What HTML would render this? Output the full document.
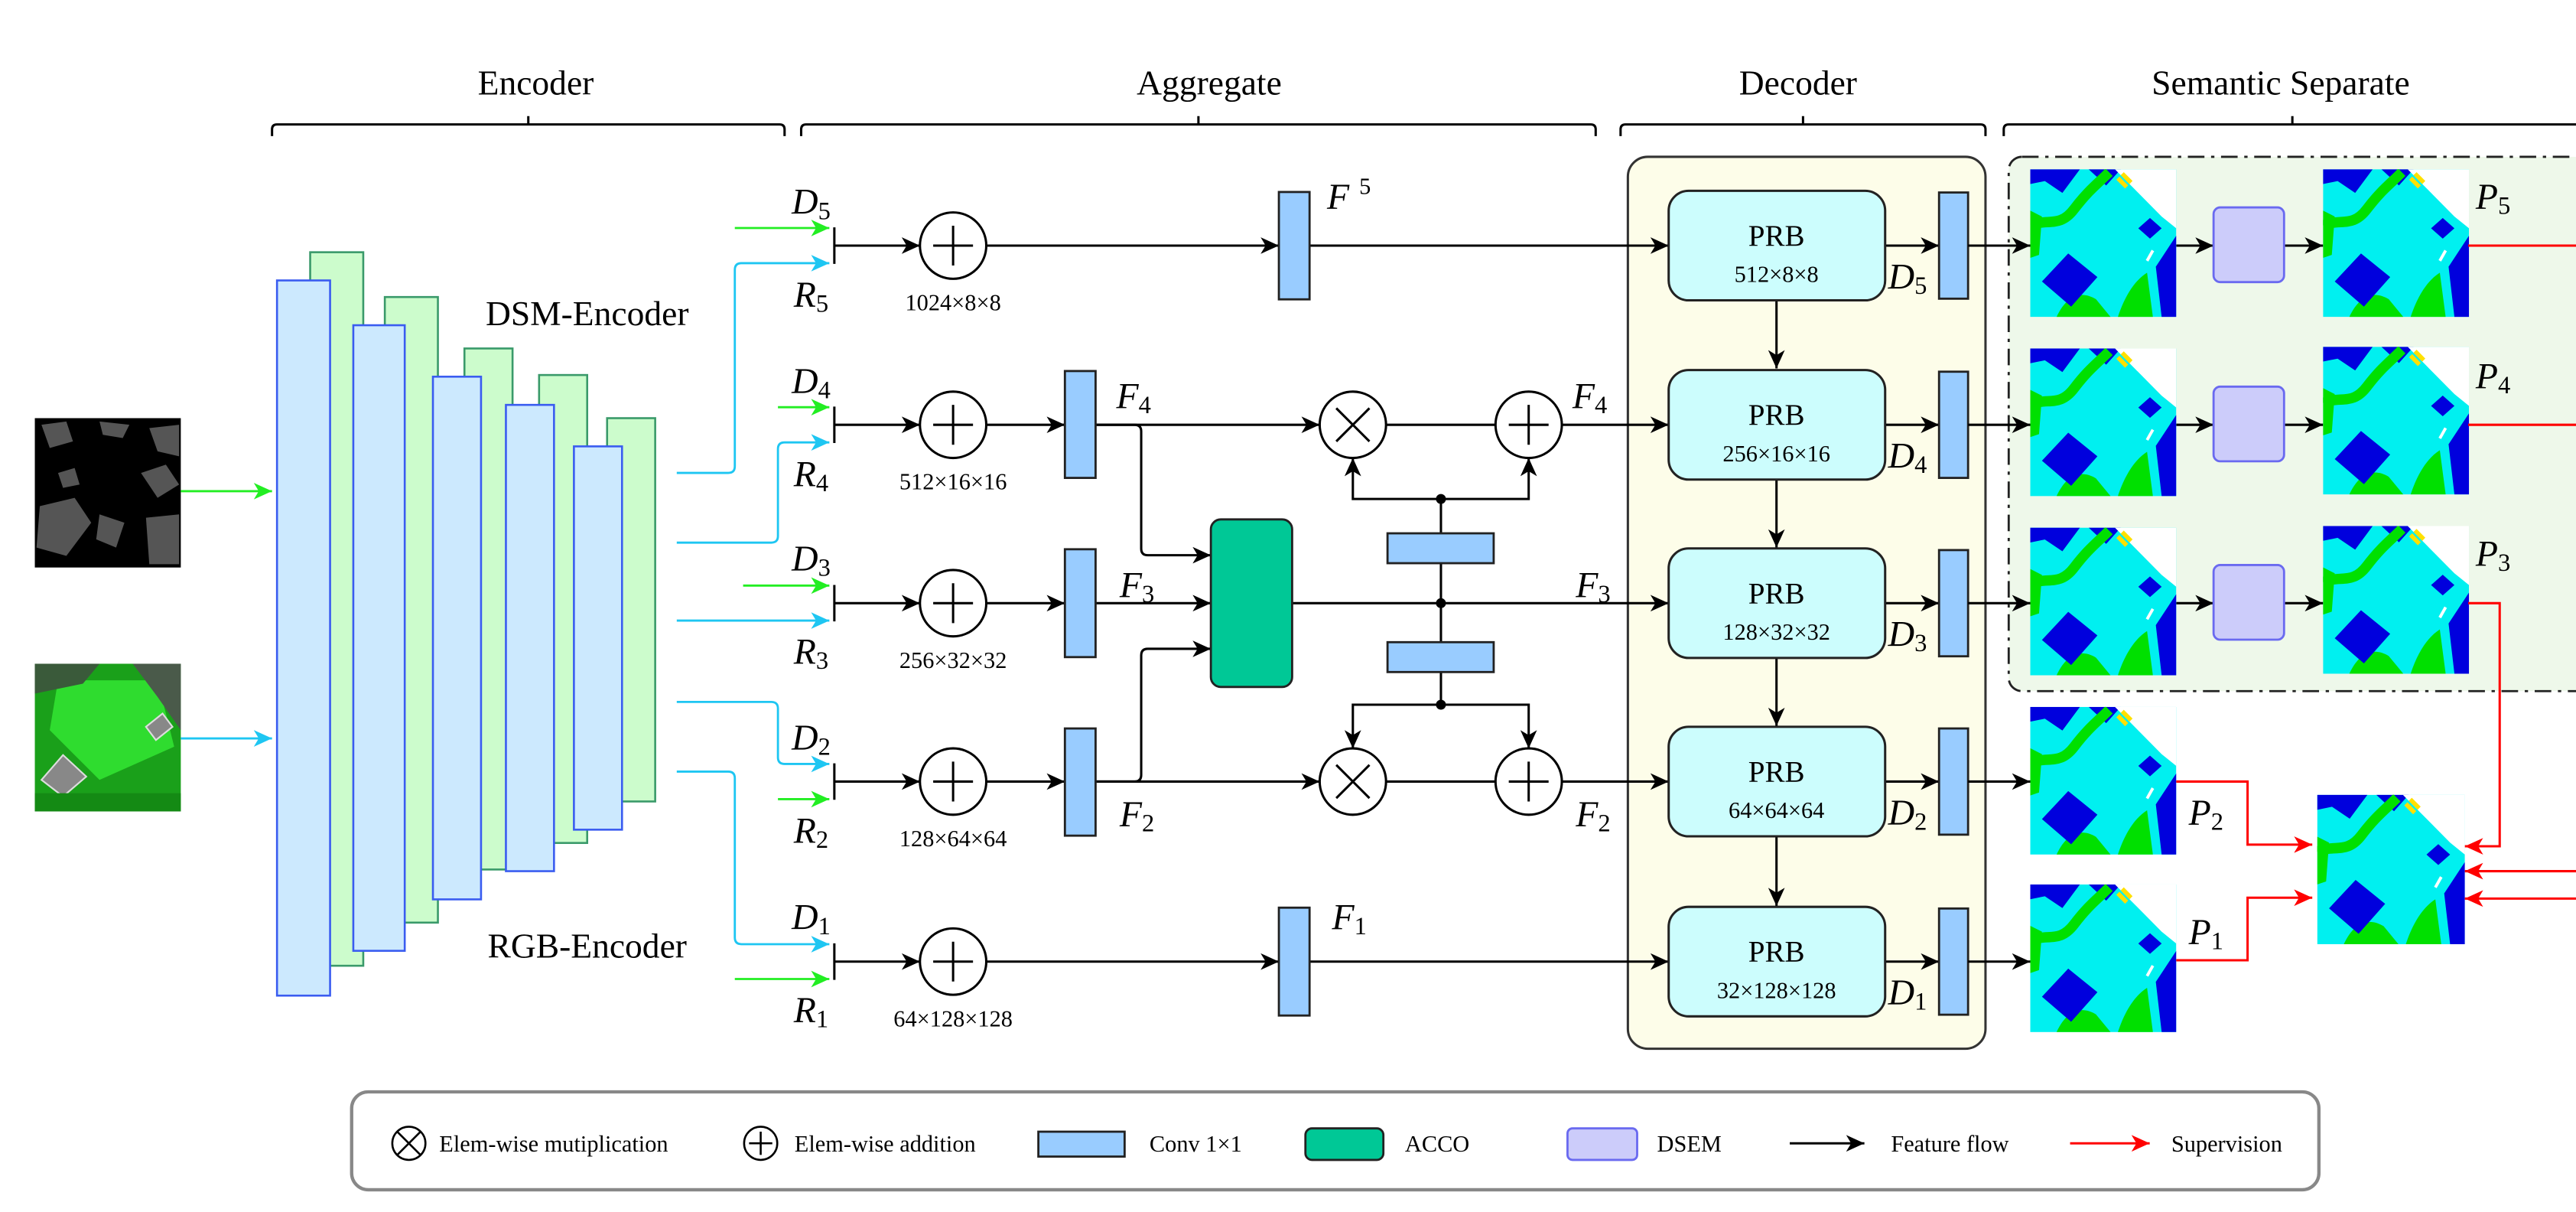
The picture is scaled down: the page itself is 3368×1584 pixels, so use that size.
<!DOCTYPE html>
<html><head><meta charset="utf-8"><style>
html,body{margin:0;padding:0;background:#fff;}
svg{display:block;font-family:"Liberation Serif",serif;}
text{font-family:"Liberation Serif",serif;fill:#000;}
.it{font-style:italic;}
</style></head><body>
<svg width="3368" height="1584" viewBox="0 0 1553 730.4" preserveAspectRatio="none" xmlns="http://www.w3.org/2000/svg" font-family="Liberation Serif, serif">
<defs>
<marker id="ab" markerUnits="userSpaceOnUse" markerWidth="12" markerHeight="10" refX="11" refY="5" orient="auto"><path d="M0,0 L11,5 L0,10 L3,5 Z" fill="#000"/></marker>
<marker id="ag" markerUnits="userSpaceOnUse" markerWidth="12" markerHeight="10" refX="11" refY="5" orient="auto"><path d="M0,0 L11,5 L0,10 L3,5 Z" fill="#22ee22"/></marker>
<marker id="ac" markerUnits="userSpaceOnUse" markerWidth="12" markerHeight="10" refX="11" refY="5" orient="auto"><path d="M0,0 L11,5 L0,10 L3,5 Z" fill="#1ec6f2"/></marker>
<marker id="ar" markerUnits="userSpaceOnUse" markerWidth="12" markerHeight="10" refX="11" refY="5" orient="auto"><path d="M0,0 L11,5 L0,10 L3,5 Z" fill="#f00"/></marker>
<symbol id="seg" viewBox="0 0 100 100" preserveAspectRatio="none">
<rect width="100" height="100" fill="#00f0f0"/>
<polygon points="0,0 34,0 22,16 10,8 0,10" fill="#0000dd"/>
<polygon points="40,0 62,0 52,11" fill="#0000dd"/>
<path d="M0,38 C12,33 20,40 30,27 C40,14 46,10 54,2" stroke="#00e000" stroke-width="7" fill="none"/>
<path d="M0,28 L8,32 L6,58 L0,60 Z" fill="#00e000"/>
<path d="M18,100 C25,85 35,82 45,88 L55,100 Z" fill="#00e000"/>
<path d="M60,100 C65,85 72,75 80,70 L84,100 Z" fill="#00e000"/>
<polygon points="8,76 26,57 46,73 28,93" fill="#0000dd"/>
<polygon points="58,0 100,0 100,40 90,32 70,12" fill="#fff"/>
<path d="M60,6 L66,12 M63,3 L69,9" stroke="#ffe000" stroke-width="3"/>
<polygon points="74,40 82,33 90,40 82,47" fill="#0000dd"/>
<polygon points="100,45 86,66 90,100 100,100" fill="#0000dd"/>
<path d="M84,55 L80,62" stroke="#fff" stroke-width="2"/>
</symbol>
</defs>

<!-- headers -->
<g font-size="21" text-anchor="middle">
<text x="323" y="57">Encoder</text>
<text x="729" y="57">Aggregate</text>
<text x="1084" y="57">Decoder</text>
<text x="1375" y="57">Semantic Separate</text>
</g>
<g fill="none" stroke="#000" stroke-width="1.4">
<path d="M164,82 V78 Q164,75 167,75 H470 Q473,75 473,78 V82 M318.5,75 V70"/>
<path d="M483,82 V78 Q483,75 486,75 H959 Q962,75 962,78 V82 M722.5,75 V70"/>
<path d="M977,82 V78 Q977,75 980,75 H1194 Q1197,75 1197,78 V82 M1087,75 V70"/>
<path d="M1208,82 V78 Q1208,75 1211,75 H1560 M1382,75 V70"/>
</g>

<!-- decoder & semantic backgrounds (drawn first) -->
<rect x="981.4" y="94.5" width="215.6" height="537.5" rx="12" fill="#fdfde9" stroke="#333" stroke-width="1.4"/>
<rect x="1211" y="94.5" width="400" height="322" rx="8" fill="#eef8ea" stroke="#222" stroke-width="1.3" stroke-dasharray="10,4,2,4"/>

<!-- input images -->
<rect x="21" y="252" width="88" height="90" fill="#000"/>
<g fill="#555">
<polygon points="25,256 40,254 44,266 30,270"/>
<polygon points="60,254 78,256 74,264 62,262"/>
<polygon points="90,258 108,256 108,275 95,272"/>
<polygon points="85,285 100,280 108,292 95,300"/>
<polygon points="24,305 45,300 55,315 40,335 22,330"/>
<polygon points="60,310 75,315 70,330 58,325"/>
<polygon points="88,312 108,310 108,340 90,340"/>
<polygon points="35,285 45,282 48,292 38,294"/>
</g>
<rect x="21" y="400" width="88" height="89" fill="#1aa01a"/>
<polygon points="35,410 95,410 105,450 60,470 30,440" fill="#2fdc2f"/>
<polygon points="21,400 60,400 50,412 21,418" fill="#3a5a3a"/>
<polygon points="80,400 109,400 109,440 95,420" fill="#4a5a4a"/>
<polygon points="25,470 38,455 52,468 38,480" fill="#888" stroke="#ddd" stroke-width="1"/>
<polygon points="88,438 98,430 104,438 94,446" fill="#888" stroke="#ddd" stroke-width="1"/>
<rect x="21" y="478" width="88" height="11" fill="#148a14"/>

<line x1="109" y1="296" x2="164" y2="296" stroke="#22ee22" stroke-width="1.3" marker-end="url(#ag)"/>
<line x1="109" y1="445" x2="164" y2="445" stroke="#1ec6f2" stroke-width="1.3" marker-end="url(#ac)"/>

<!-- encoder blocks -->
<g stroke-width="1.2">
<rect x="187" y="152" width="32" height="430" fill="#ccfccc" stroke="#3a9a6a"/>
<rect x="167" y="169" width="32" height="431" fill="#cce9fe" stroke="#3a5cf0"/>
<rect x="232" y="179" width="32" height="377" fill="#ccfccc" stroke="#3a9a6a"/>
<rect x="213" y="196" width="31" height="377" fill="#cce9fe" stroke="#3a5cf0"/>
<rect x="280" y="210" width="29" height="314" fill="#ccfccc" stroke="#3a9a6a"/>
<rect x="261" y="227" width="29" height="315" fill="#cce9fe" stroke="#3a5cf0"/>
<rect x="325" y="226" width="29" height="282" fill="#ccfccc" stroke="#3a9a6a"/>
<rect x="305" y="244" width="29" height="281" fill="#cce9fe" stroke="#3a5cf0"/>
<rect x="366" y="252" width="29" height="231" fill="#ccfccc" stroke="#3a9a6a"/>
<rect x="346" y="269" width="29" height="231" fill="#cce9fe" stroke="#3a5cf0"/>
</g>
<text x="354" y="196" font-size="21" text-anchor="middle">DSM-Encoder</text>
<text x="354" y="577" font-size="21" text-anchor="middle">RGB-Encoder</text>

<!-- cyan & green inputs -->
<g fill="none" stroke-width="1.3">
<path d="M408,285 H439 Q443,285 443,281 V162.6 Q443,158.6 447,158.6 H500" stroke="#1ec6f2" marker-end="url(#ac)"/>
<path d="M408,327 H465 Q469,327 469,323 V270.6 Q469,266.6 473,266.6 H500" stroke="#1ec6f2" marker-end="url(#ac)"/>
<path d="M408,374 H500" stroke="#1ec6f2" marker-end="url(#ac)"/>
<path d="M408,423 H465 Q469,423 469,427 V456.4 Q469,460.4 473,460.4 H500" stroke="#1ec6f2" marker-end="url(#ac)"/>
<path d="M408,465 H439 Q443,465 443,469 V565 Q443,569 447,569 H500" stroke="#1ec6f2" marker-end="url(#ac)"/>
<path d="M443,137.4 H500" stroke="#22ee22" marker-end="url(#ag)"/>
<path d="M469,245.4 H500" stroke="#22ee22" marker-end="url(#ag)"/>
<path d="M448,352.9 H500" stroke="#22ee22" marker-end="url(#ag)"/>
<path d="M469,481.6 H500" stroke="#22ee22" marker-end="url(#ag)"/>
<path d="M443,590 H500" stroke="#22ee22" marker-end="url(#ag)"/>
</g>

<!-- rows: ticks, labels, add circles -->
<g stroke="#000" stroke-width="1.4" fill="none">
<path d="M503,137 V159 M503,245 V267 M503,352.5 V374.5 M503,460 V482 M503,568.5 V590.5"/>
<path d="M503,148 H554.6" marker-end="url(#ab)"/>
<path d="M503,256 H554.6" marker-end="url(#ab)"/>
<path d="M503,363.5 H554.6" marker-end="url(#ab)"/>
<path d="M503,471 H554.6" marker-end="url(#ab)"/>
<path d="M503,579.5 H554.6" marker-end="url(#ab)"/>
</g>
<g stroke="#000" stroke-width="1.4" fill="#fff">
<circle cx="574.6" cy="148" r="20"/><circle cx="574.6" cy="256" r="20"/><circle cx="574.6" cy="363.5" r="20"/><circle cx="574.6" cy="471" r="20"/><circle cx="574.6" cy="579.5" r="20"/>
</g>
<g stroke="#000" stroke-width="1.4">
<path d="M562.6,148 H586.6 M574.6,136 V160 M562.6,256 H586.6 M574.6,244 V268 M562.6,363.5 H586.6 M574.6,351.5 V375.5 M562.6,471 H586.6 M574.6,459 V483 M562.6,579.5 H586.6 M574.6,567.5 V591.5"/>
</g>
<g font-size="22" class="it" text-anchor="middle">
<text x="489" y="129" class="it">D<tspan font-size="15" font-style="normal" dy="3">5</tspan></text>
<text x="489" y="185" class="it">R<tspan font-size="15" font-style="normal" dy="3">5</tspan></text>
<text x="489" y="237" class="it">D<tspan font-size="15" font-style="normal" dy="3">4</tspan></text>
<text x="489" y="293" class="it">R<tspan font-size="15" font-style="normal" dy="3">4</tspan></text>
<text x="489" y="344" class="it">D<tspan font-size="15" font-style="normal" dy="3">3</tspan></text>
<text x="489" y="400" class="it">R<tspan font-size="15" font-style="normal" dy="3">3</tspan></text>
<text x="489" y="452" class="it">D<tspan font-size="15" font-style="normal" dy="3">2</tspan></text>
<text x="489" y="508" class="it">R<tspan font-size="15" font-style="normal" dy="3">2</tspan></text>
<text x="489" y="560" class="it">D<tspan font-size="15" font-style="normal" dy="3">1</tspan></text>
<text x="489" y="616" class="it">R<tspan font-size="15" font-style="normal" dy="3">1</tspan></text>
</g>
<g font-size="14" text-anchor="middle">
<text x="574.6" y="187">1024×8×8</text>
<text x="574.6" y="295">512×16×16</text>
<text x="574.6" y="402.5">256×32×32</text>
<text x="574.6" y="510">128×64×64</text>
<text x="574.6" y="618.5">64×128×128</text>
</g>

<!-- aggregate connections -->
<g stroke="#000" stroke-width="1.4" fill="none">
<path d="M594.6,148 H771" marker-end="url(#ab)"/>
<path d="M789.5,148 H1006" marker-end="url(#ab)"/>
<path d="M594.6,579.5 H771" marker-end="url(#ab)"/>
<path d="M789.5,579.5 H1006" marker-end="url(#ab)"/>
<path d="M594.6,256 H642" marker-end="url(#ab)"/>
<path d="M594.6,363.5 H642" marker-end="url(#ab)"/>
<path d="M594.6,471 H642" marker-end="url(#ab)"/>
<path d="M660.5,256 H795.6" marker-end="url(#ab)"/>
<path d="M660.5,471 H795.6" marker-end="url(#ab)"/>
<path d="M835.6,256 H901.6 M835.6,471 H901.6"/>
<path d="M941.6,256 H1006" marker-end="url(#ab)"/>
<path d="M941.6,471 H1006" marker-end="url(#ab)"/>
<path d="M660.5,363.5 H730" marker-end="url(#ab)"/>
<path d="M779,363.5 H1006" marker-end="url(#ab)"/>
<path d="M660.5,256 H684 Q688,256 688,260 V330.6 Q688,334.6 692,334.6 H730" marker-end="url(#ab)"/>
<path d="M660.5,471 H684 Q688,471 688,467 V395 Q688,391 692,391 H730" marker-end="url(#ab)"/>
<path d="M868.7,300.7 V424.7"/>
<path d="M868.7,300.7 H815.6 V276" marker-end="url(#ab)"/>
<path d="M868.7,300.7 H921.6 V276" marker-end="url(#ab)"/>
<path d="M868.7,424.7 H815.6 V451" marker-end="url(#ab)"/>
<path d="M868.7,424.7 H921.6 V451" marker-end="url(#ab)"/>
</g>
<g fill="#99ccff" stroke="#222" stroke-width="1.3">
<rect x="771" y="115.7" width="18.5" height="64.7"/>
<rect x="771" y="547" width="18.5" height="65"/>
<rect x="642" y="223.6" width="18.5" height="64.4"/>
<rect x="642" y="331" width="18.5" height="65"/>
<rect x="642" y="439" width="18.5" height="64.6"/>
<rect x="836.5" y="321.4" width="64" height="18"/>
<rect x="836.5" y="387" width="64" height="18"/>
</g>
<rect x="730" y="313" width="49" height="101" rx="6" fill="#00c896" stroke="#222" stroke-width="1.3"/>
<g fill="#000"><circle cx="868.7" cy="300.7" r="3"/><circle cx="868.7" cy="363.5" r="3"/><circle cx="868.7" cy="424.7" r="3"/></g>
<g stroke="#000" stroke-width="1.4" fill="#fff">
<circle cx="815.6" cy="256" r="20"/><circle cx="921.6" cy="256" r="20"/>
<circle cx="815.6" cy="471" r="20"/><circle cx="921.6" cy="471" r="20"/>
</g>
<g stroke="#000" stroke-width="1.4">
<path d="M805.6,246 L825.6,266 M825.6,246 L805.6,266 M805.6,461 L825.6,481 M825.6,461 L805.6,481"/>
<path d="M909.6,256 H933.6 M921.6,244 V268 M909.6,471 H933.6 M921.6,459 V483"/>
</g>
<g font-size="22" class="it">
<text x="800" y="126" class="it">F<tspan font-size="14" font-style="normal" dx="6" dy="-9">5</tspan></text>
<text x="673" y="246" class="it">F<tspan font-size="15" font-style="normal" dy="3">4</tspan></text>
<text x="675" y="360" class="it">F<tspan font-size="15" font-style="normal" dy="3">3</tspan></text>
<text x="675" y="498" class="it">F<tspan font-size="15" font-style="normal" dy="3">2</tspan></text>
<text x="803" y="560" class="it">F<tspan font-size="15" font-style="normal" dy="3">1</tspan></text>
<text x="948" y="246" class="it">F<tspan font-size="15" font-style="normal" dy="3">4</tspan></text>
<text x="950" y="360" class="it">F<tspan font-size="15" font-style="normal" dy="3">3</tspan></text>
<text x="950" y="498" class="it">F<tspan font-size="15" font-style="normal" dy="3">2</tspan></text>
</g>

<!-- decoder -->
<g stroke="#000" stroke-width="1.4" fill="none">
<path d="M1071,181 V222" marker-end="url(#ab)"/>
<path d="M1071,289 V330" marker-end="url(#ab)"/>
<path d="M1071,396.5 V437.5" marker-end="url(#ab)"/>
<path d="M1071,504 V546" marker-end="url(#ab)"/>
<path d="M1136.5,148 H1169" marker-end="url(#ab)"/>
<path d="M1136.5,256 H1169" marker-end="url(#ab)"/>
<path d="M1136.5,363.5 H1169" marker-end="url(#ab)"/>
<path d="M1136.5,471 H1169" marker-end="url(#ab)"/>
<path d="M1136.5,579.5 H1169" marker-end="url(#ab)"/>
</g>
<g fill="#ccfdfd" stroke="#222" stroke-width="1.4">
<rect x="1006" y="115" width="130.5" height="66" rx="12"/>
<rect x="1006" y="223" width="130.5" height="66" rx="12"/>
<rect x="1006" y="330.5" width="130.5" height="66" rx="12"/>
<rect x="1006" y="438" width="130.5" height="66" rx="12"/>
<rect x="1006" y="546.5" width="130.5" height="66" rx="12"/>
</g>
<g text-anchor="middle">
<text x="1071" y="148" font-size="18">PRB</text><text x="1071" y="170" font-size="14">512×8×8</text>
<text x="1071" y="256" font-size="18">PRB</text><text x="1071" y="278" font-size="14">256×16×16</text>
<text x="1071" y="363.5" font-size="18">PRB</text><text x="1071" y="385.5" font-size="14">128×32×32</text>
<text x="1071" y="471" font-size="18">PRB</text><text x="1071" y="493" font-size="14">64×64×64</text>
<text x="1071" y="579.5" font-size="18">PRB</text><text x="1071" y="601.5" font-size="14">32×128×128</text>
</g>
<g font-size="22" class="it" text-anchor="middle">
<text x="1150" y="174" class="it">D<tspan font-size="15" font-style="normal" dy="3">5</tspan></text>
<text x="1150" y="282" class="it">D<tspan font-size="15" font-style="normal" dy="3">4</tspan></text>
<text x="1150" y="389.5" class="it">D<tspan font-size="15" font-style="normal" dy="3">3</tspan></text>
<text x="1150" y="497" class="it">D<tspan font-size="15" font-style="normal" dy="3">2</tspan></text>
<text x="1150" y="605.5" class="it">D<tspan font-size="15" font-style="normal" dy="3">1</tspan></text>
</g>

<!-- semantic separate -->
<g fill="#99ccff" stroke="#222" stroke-width="1.3">
<rect x="1169" y="116" width="17.5" height="64"/>
<rect x="1169" y="224" width="17.5" height="64"/>
<rect x="1169" y="331.5" width="17.5" height="64"/>
<rect x="1169" y="439" width="17.5" height="64"/>
<rect x="1169" y="547.5" width="17.5" height="64"/>
</g>
<g stroke="#000" stroke-width="1.4" fill="none">
<path d="M1186.5,148 H1224" marker-end="url(#ab)"/>
<path d="M1186.5,256 H1224" marker-end="url(#ab)"/>
<path d="M1186.5,363.5 H1224" marker-end="url(#ab)"/>
<path d="M1186.5,471 H1224" marker-end="url(#ab)"/>
<path d="M1186.5,579.5 H1224" marker-end="url(#ab)"/>
<path d="M1312,148 H1334.5" marker-end="url(#ab)"/>
<path d="M1312,256 H1334.5" marker-end="url(#ab)"/>
<path d="M1312,363.5 H1334.5" marker-end="url(#ab)"/>
<path d="M1377,148 H1400.5" marker-end="url(#ab)"/>
<path d="M1377,256 H1400.5" marker-end="url(#ab)"/>
<path d="M1377,363.5 H1400.5" marker-end="url(#ab)"/>
</g>
<use href="#seg" x="1224" y="102" width="88" height="89"/>
<use href="#seg" x="1224" y="210" width="88" height="89"/>
<use href="#seg" x="1224" y="318" width="88" height="89"/>
<use href="#seg" x="1224" y="426" width="88" height="89"/>
<use href="#seg" x="1224" y="533" width="88" height="89"/>
<use href="#seg" x="1400.5" y="102" width="88" height="89"/>
<use href="#seg" x="1400.5" y="209" width="88" height="89"/>
<use href="#seg" x="1400.5" y="317" width="88" height="89"/>
<use href="#seg" x="1397" y="479" width="89" height="90"/>
<g fill="#ccccfa" stroke="#6a6af0" stroke-width="1.3">
<rect x="1334.5" y="125" width="42.5" height="45" rx="4"/>
<rect x="1334.5" y="233" width="42.5" height="45" rx="4"/>
<rect x="1334.5" y="340.5" width="42.5" height="45" rx="4"/>
</g>
<g font-size="22" class="it" text-anchor="middle">
<text x="1503" y="126" class="it">P<tspan font-size="15" font-style="normal" dy="3">5</tspan></text>
<text x="1503" y="234" class="it">P<tspan font-size="15" font-style="normal" dy="3">4</tspan></text>
<text x="1503" y="341" class="it">P<tspan font-size="15" font-style="normal" dy="3">3</tspan></text>
<text x="1330" y="497" class="it">P<tspan font-size="15" font-style="normal" dy="3">2</tspan></text>
<text x="1330" y="569" class="it">P<tspan font-size="15" font-style="normal" dy="3">1</tspan></text>
</g>
<g stroke="#f00" stroke-width="1.4" fill="none">
<path d="M1488,148 H1560 M1488,256 H1560"/>
<path d="M1488,363.5 H1507 V510 H1486" marker-end="url(#ar)"/>
<path d="M1560,525 H1486" marker-end="url(#ar)"/>
<path d="M1560,541.5 H1486" marker-end="url(#ar)"/>
<path d="M1312,471 H1355 V509 H1394" marker-end="url(#ar)"/>
<path d="M1312,578.7 H1355 V541 H1394" marker-end="url(#ar)"/>
</g>

<!-- legend -->
<rect x="212" y="658" width="1186" height="59" rx="10" fill="#fff" stroke="#888" stroke-width="2"/>
<g stroke="#000" stroke-width="1.2" fill="#fff">
<circle cx="246.5" cy="689" r="10"/><circle cx="458.6" cy="689" r="10"/>
</g>
<g stroke="#000" stroke-width="1.2">
<path d="M239.5,682 L253.5,696 M253.5,682 L239.5,696 M451.6,689 H465.6 M458.6,682 V696"/>
</g>
<rect x="626" y="682" width="52" height="15" fill="#99ccff" stroke="#222" stroke-width="1.3"/>
<rect x="787" y="680" width="47" height="19" rx="4" fill="#00c896" stroke="#222" stroke-width="1.3"/>
<rect x="945" y="680" width="42" height="19" rx="3" fill="#ccccfa" stroke="#6a6af0" stroke-width="1.3"/>
<path d="M1079,689 H1124" stroke="#000" stroke-width="1.4" marker-end="url(#ab)"/>
<path d="M1248,689 H1296" stroke="#f00" stroke-width="1.4" marker-end="url(#ar)"/>
<g font-size="14">
<text x="264.8" y="694">Elem-wise mutiplication</text>
<text x="479" y="694">Elem-wise addition</text>
<text x="693" y="694">Conv 1×1</text>
<text x="847" y="694">ACCO</text>
<text x="999" y="694">DSEM</text>
<text x="1140" y="694">Feature flow</text>
<text x="1309" y="694">Supervision</text>
</g>
</svg>
</body></html>
